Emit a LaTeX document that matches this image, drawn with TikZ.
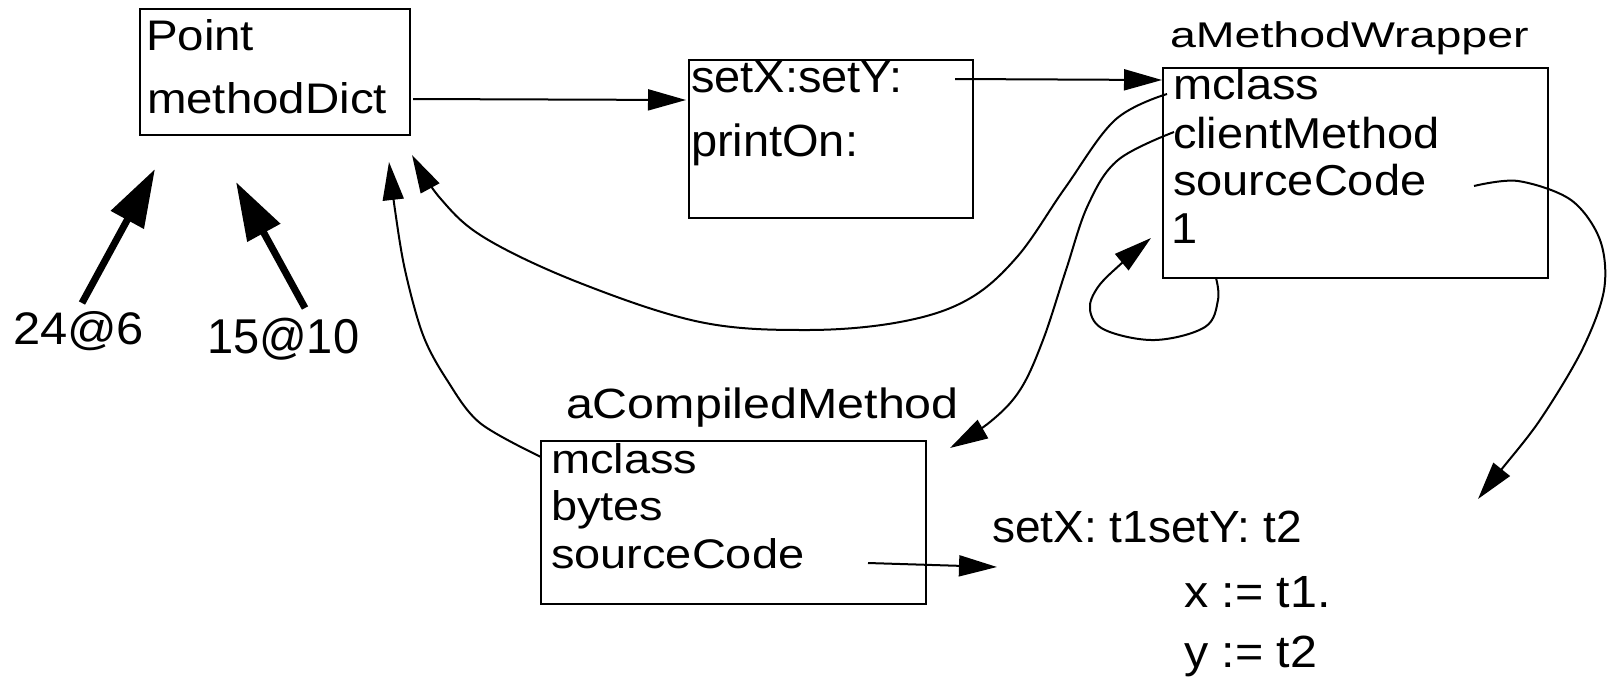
\documentclass[tikz,border=0pt]{standalone}
\usepackage{fontspec}
\setmainfont{Liberation Sans}
\usetikzlibrary{arrows.meta}
\newcommand\tx[3]{\scalebox{#1}[#2]{#3}}
\begin{document}
\begin{tikzpicture}[x=1pt,y=-1pt,
  box/.style={draw, line width=2.5pt, inner sep=0pt, outer sep=0pt},
  lbl/.style={anchor=base west, inner sep=0pt, outer sep=0pt, font=\fontsize{47pt}{47pt}\selectfont},
  conn/.style={line width=2pt, -{Triangle[length=38pt,width=21pt]}},
  fatarrow/.style={line width=7pt, -{Triangle[length=58pt,width=36pt]}},
  ]
\useasboundingbox[fill=white] (0,0) rectangle (1608,678);

% boxes
\node[box, minimum width=270pt, minimum height=126pt] (pt) at (275,72) {};
\node[box, minimum width=284pt, minimum height=158pt] (sx) at (831,139) {};
\node[box, minimum width=385pt, minimum height=210pt] (mw) at (1355.5,173) {};
\node[box, minimum width=385pt, minimum height=163pt] (cm) at (733.5,522.5) {};

% texts
\node[lbl] (tPoint) at (146,50) {\tx{1.01}{0.91}{Point}};
\node[lbl] (tMD) at (147,113) {\tx{1.01}{0.91}{methodDict}};
\node[lbl] (tSX) at (691,92) {\tx{1.0}{0.96}{setX:setY:}};
\node[lbl] (tPO) at (691,156) {\tx{1.0}{0.96}{printOn:}};
\node[lbl] (tMW) at (1170,47) {\tx{0.99}{0.76}{aMethodWrapper}};
\node[lbl] (tMWm) at (1173,99) {\tx{1.0}{0.92}{mclass}};
\node[lbl] (tMWc) at (1173,148) {\tx{1.0}{0.92}{clientMethod}};
\node[lbl] (tMWs) at (1173,195) {\tx{1.0}{0.92}{sourceCode}};
\node[lbl] (tMW1) at (1171,243) {\tx{1.0}{0.92}{1}};
\node[lbl] (tCM) at (566,418) {\tx{1.03}{0.9}{aCompiledMethod}};
\node[lbl] (tCMm) at (551,473) {\tx{1.0}{0.88}{mclass}};
\node[lbl] (tCMb) at (551,520) {\tx{1.0}{0.88}{bytes}};
\node[lbl] (tCMs) at (551,568) {\tx{1.0}{0.88}{sourceCode}};
\node[lbl] (tS1) at (992,542) {\tx{0.98}{0.96}{setX: t1setY: t2}};
\node[lbl] (tS2) at (1184,607) {\tx{1.03}{0.96}{x := t1.}};
\node[lbl] (tS3) at (1184,667) {\tx{1.03}{0.96}{y := t2}};
\node[lbl] (l24) at (13,344) {\tx{1.04}{0.97}{24@6}};
\node[lbl] (l15) at (207,353) {\tx{1.0}{1.04}{15@10}};

% connector end points
\coordinate (mdOut) at (413,99);
\coordinate (sxIn) at (686,100);
\coordinate (sxOut) at (955,79);
\coordinate (mwIn) at (1162,80);
\coordinate (mwM) at (1167,94);
\coordinate (ptA) at (412,155);
\coordinate (mwC) at (1174,132);
\coordinate (cmIn) at (950,448);
\coordinate (cmM) at (541,457);
\coordinate (ptB) at (389,162);
\coordinate (mwS) at (1474,186);
\coordinate (srcIn) at (1478,499);
\coordinate (loopOut) at (1216,278);
\coordinate (loopIn) at (1151,238);
\coordinate (cmS) at (868,563);
\coordinate (srcIn2) at (997,567);
\coordinate (a24) at (82,303);
\coordinate (ptC) at (155,169);
\coordinate (a15) at (305,308);
\coordinate (ptD) at (236,182);

% straight connectors
\draw[conn] (mdOut) -- (sxIn);
\draw[conn] (sxOut) -- (mwIn);
\draw[conn] (cmS) -- (srcIn2);
\draw[fatarrow] (a24) -- (ptC);
\draw[fatarrow] (a15) -- (ptD);

% curved connectors
\draw[conn] plot[smooth, tension=0.6] coordinates {(mwM) (1115,120) (1065,188) (1017,257) (967,300) (900,322) (807,330) (700,322) (580,283) (485,238) (440,198) (ptA)};
\draw[conn] plot[smooth, tension=0.6] coordinates {(mwC) (1118,160) (1088,205) (1066,270) (1043,340) (1020,390) (990,422) (cmIn)};
\draw[conn] plot[smooth, tension=0.55] coordinates {(cmM) (480,423) (447,380) (423,335) (405,270) (395,210) (ptB)};
\draw[conn] plot[smooth, tension=0.55] coordinates {(mwS) (1518,181) (1571,200) (1600,240) (1604,290) (1582,350) (1540,420) (1501,470) (srcIn)};
\draw[conn] plot[smooth, tension=0.6] coordinates {(loopOut) (1218,300) (1205,327) (1155,340) (1105,330) (1090,310) (1098,287) (1123,262) (loopIn)};
\end{tikzpicture}
\end{document}
